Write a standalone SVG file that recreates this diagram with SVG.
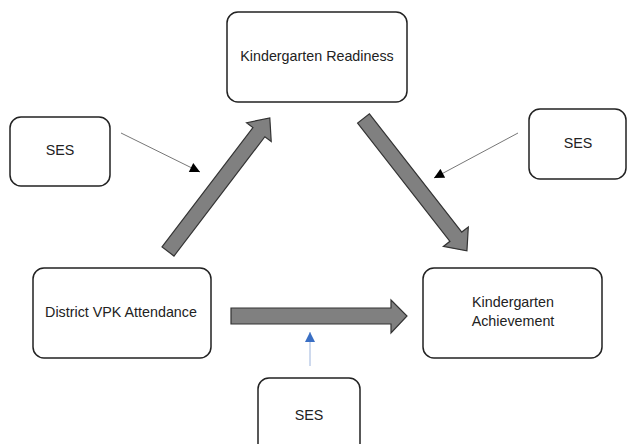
<svg xmlns="http://www.w3.org/2000/svg" width="627" height="444" viewBox="0 0 627 444">
<style>
.box{fill:#fff;stroke:#222;stroke-width:1.5}
.lbl{font-family:"Liberation Sans",Arial,sans-serif;font-size:14.3px;fill:#222;text-anchor:middle}
.big{fill:#808080;stroke:#333;stroke-width:1.2;stroke-linejoin:miter}
.thin{stroke:#777;stroke-width:1;fill:none}
</style>
<defs>
<marker id="ah" viewBox="0 0 10 10" refX="10" refY="5" markerWidth="12" markerHeight="10" markerUnits="userSpaceOnUse" orient="auto"><path d="M0,0 L10,5 L0,10 Z" fill="#000"/></marker>
<marker id="ahb" viewBox="0 0 10 10" refX="10" refY="5" markerWidth="12" markerHeight="10" markerUnits="userSpaceOnUse" orient="auto"><path d="M0,0 L10,5 L0,10 Z" fill="#3a6fc4"/></marker>
</defs>
<g id="n-readiness"><rect class="box" x="227" y="12" width="180" height="90" rx="11"/><text class="lbl" x="317" y="61">Kindergarten Readiness</text></g>
<g id="n-ses-left"><rect class="box" x="10" y="117" width="100" height="69" rx="11"/><text class="lbl" x="60" y="155">SES</text></g>
<g id="n-ses-right"><rect class="box" x="529" y="109" width="97" height="70" rx="11"/><text class="lbl" x="578" y="148">SES</text></g>
<g id="n-vpk"><rect class="box" x="33" y="268" width="178" height="90" rx="11"/><text class="lbl" x="121" y="317">District VPK Attendance</text></g>
<g id="n-achievement"><rect class="box" x="423" y="268" width="179" height="90" rx="11"/><text class="lbl" x="513" y="307">Kindergarten</text><text class="lbl" x="513" y="326">Achievement</text></g>
<g id="n-ses-bottom"><rect class="box" x="258" y="378" width="102" height="80" rx="11"/><text class="lbl" x="309" y="420">SES</text></g>
<g id="connectors">
<polygon class="big" transform="translate(168,251.5) rotate(-52.7)" points="0,-7.5 150,-7.5 150,-15.5 168,0 150,15.5 150,7.5 0,7.5"/>
<polygon class="big" transform="translate(363.5,118.5) rotate(52)" points="0,-7.5 150,-7.5 150,-15.8 168,0 150,15.8 150,7.5 0,7.5"/>
<polygon class="big" points="231,308 391,308 391,300 407,316 391,333 391,324 231,324"/>
<line class="thin" x1="121" y1="133" x2="200" y2="172" marker-end="url(#ah)"/>
<line class="thin" x1="518" y1="133" x2="434" y2="178" marker-end="url(#ah)"/>
<line x1="310" y1="366" x2="310" y2="332" stroke="#9db4dc" stroke-width="1" marker-end="url(#ahb)"/>
</g>
</svg>
